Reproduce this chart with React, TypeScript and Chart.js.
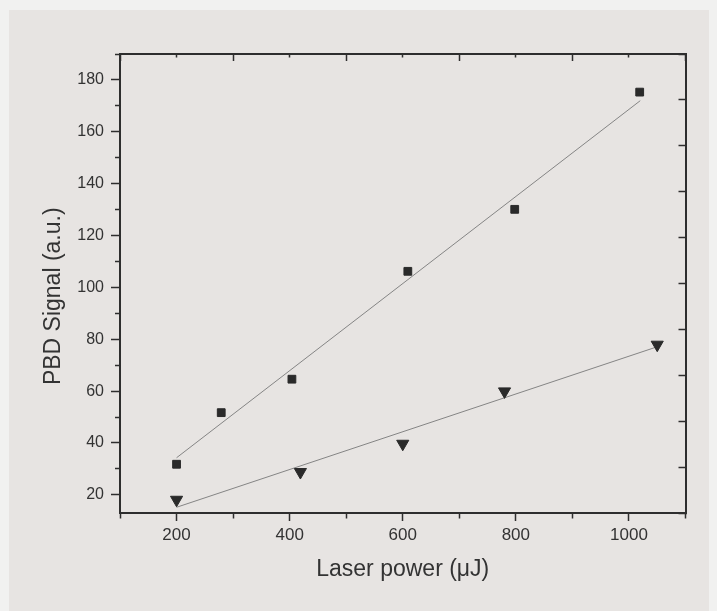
import React, { useEffect, useRef } from 'react';
import { Chart, registerables } from 'chart.js';

Chart.register(...registerables);

// ---- data ----
const squareX = [200, 279, 404, 609, 798, 1019];
const squareY = [31.8, 51.7, 64.6, 106.2, 130.1, 175.3];
const triangleX = [200, 419, 600, 780, 1050];
const triangleY = [18.1, 28.8, 39.7, 59.9, 77.9];
const squareFitX = [200, 1020];
const squareFitY = [34.3, 172];
const triangleFitX = [200, 1050];
const triangleFitY = [15.2, 77.1];

const xLabeledTicks = [200, 400, 600, 800, 1000];
const yLabeledTicks = [20, 40, 60, 80, 100, 120, 140, 160, 180];
const xTitle = 'Laser power (μJ)';
const yTitle = 'PBD Signal (a.u.)';

const FONT = '"Liberation Sans", Arial, Helvetica, sans-serif';
const AXIS = '#2e2e2e';
const TEXT = '#333333';
const MARK = '#2a2a2a';
const FIT = '#858585';

const toPoints = (xs: number[], ys: number[]) => xs.map((x, i) => ({ x, y: ys[i] }));

const bgPlugin = {
  id: 'bg',
  beforeDraw(chart: any) {
    const { ctx, width, height } = chart;
    ctx.save();
    ctx.fillStyle = '#f1f1f0';
    ctx.fillRect(0, 0, width, height);
    ctx.fillStyle = '#e7e4e2';
    ctx.fillRect(9, 10, 700, height - 10);
    ctx.restore();
  },
};

export default function App() {
  const ref = useRef<HTMLCanvasElement | null>(null);

  useEffect(() => {
    document.body.style.margin = '0';
    const canvas = ref.current;
    if (!canvas) return;
    const border = { display: true, color: AXIS, width: 2 };
    const chart = new Chart(canvas, {
      type: 'scatter',
      data: {
        datasets: [
          {
            data: toPoints(squareX, squareY),
            pointStyle: 'rect',
            pointRadius: 5.5,
            pointBackgroundColor: MARK,
            pointBorderColor: MARK,
            pointBorderWidth: 1,
            showLine: false,
          },
          {
            data: toPoints(triangleX, triangleY),
            pointStyle: 'triangle',
            pointRotation: 180,
            pointRadius: 7,
            pointBackgroundColor: MARK,
            pointBorderColor: MARK,
            pointBorderWidth: 1,
            showLine: false,
          },
          {
            data: toPoints(squareFitX, squareFitY),
            showLine: true,
            pointRadius: 0,
            borderColor: FIT,
            borderWidth: 1,
            fill: false,
          },
          {
            data: toPoints(triangleFitX, triangleFitY),
            showLine: true,
            pointRadius: 0,
            borderColor: FIT,
            borderWidth: 1,
            fill: false,
          },
        ],
      },
      options: {
        animation: false,
        responsive: false,
        devicePixelRatio: 1,
        layout: { padding: 0 },
        plugins: { legend: { display: false }, tooltip: { enabled: false } },
        scales: {
          x: {
            type: 'linear',
            position: 'bottom',
            min: 100,
            max: 1100,
            afterFit: (s: any) => { s.height = 98; },
            ticks: {
              stepSize: 100,
              autoSkip: false,
              maxRotation: 0,
              padding: 4,
              color: TEXT,
              font: { family: FONT, size: 17 },
              callback: (v: any) => (xLabeledTicks.includes(Number(v)) ? String(v) : ''),
            },
            grid: {
              drawOnChartArea: false,
              drawTicks: true,
              tickLength: 8,
              tickWidth: 1.5,
              tickColor: AXIS,
              tickBorderDash: (c: any) =>
                c.tick && xLabeledTicks.includes(c.tick.value) ? [] : [4.5, 100],
            },
            border,
            title: {
              display: true,
              text: xTitle,
              color: TEXT,
              font: { family: FONT, size: 23 },
              padding: { top: 0, bottom: 27.5 },
            },
          },
          y: {
            type: 'linear',
            position: 'left',
            min: 13,
            max: 190,
            afterFit: (s: any) => { s.width = 120; },
            ticks: {
              stepSize: 10,
              includeBounds: false,
              autoSkip: false,
              padding: 7,
              color: TEXT,
              font: { family: FONT, size: 16 },
              callback: (v: any) => (yLabeledTicks.includes(Number(v)) ? String(v) : ''),
            },
            grid: {
              drawOnChartArea: false,
              drawTicks: true,
              tickLength: 9,
              tickWidth: 1.5,
              tickColor: AXIS,
              tickBorderDash: (c: any) =>
                c.tick && yLabeledTicks.includes(c.tick.value) ? [] : [0, 4, 100],
            },
            border,
            title: {
              display: true,
              text: yTitle + '    ',
              color: TEXT,
              font: { family: FONT, size: 23 },
              padding: { top: 40, bottom: 0 },
            },
          },
          x2: {
            type: 'linear',
            position: 'top',
            min: 100,
            max: 1100,
            afterFit: (s: any) => { s.height = 54; },
            ticks: { display: false, stepSize: 100 },
            grid: {
              drawOnChartArea: false,
              drawTicks: true,
              tickLength: -7,
              tickWidth: 1.5,
              tickColor: AXIS,
              tickBorderDash: (c: any) =>
                c.tick && c.tick.value % 200 === 100 ? [] : [0, 3.5, 100],
            },
            border,
          },
          y2: {
            type: 'linear',
            position: 'right',
            min: 0,
            max: 10,
            afterFit: (s: any) => { s.width = 31.5; },
            ticks: { display: false, stepSize: 1 },
            grid: {
              drawOnChartArea: false,
              drawTicks: true,
              tickLength: -7,
              tickWidth: 1.5,
              tickColor: AXIS,
            },
            border,
          },
        },
      } as any,
      plugins: [bgPlugin],
    });
    return () => chart.destroy();
  }, []);

  return <canvas ref={ref} width={717} height={611} style={{ display: 'block' }} />;
}
